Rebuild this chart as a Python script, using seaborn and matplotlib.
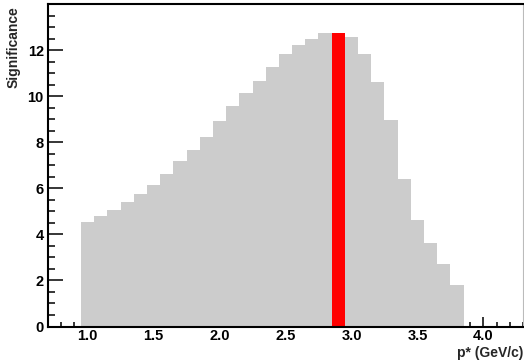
import matplotlib
matplotlib.use("Agg")
import matplotlib.pyplot as plt
from matplotlib.ticker import MultipleLocator, FixedLocator
import numpy as np
import pandas as pd
import seaborn as sns

# Data: bin centres (GeV/c) and significance per bin
p_centers = [1.0, 1.1, 1.2, 1.3, 1.4, 1.5, 1.6, 1.7, 1.8, 1.9,
             2.0, 2.1, 2.2, 2.3, 2.4, 2.5, 2.6, 2.7, 2.8, 2.9,
             3.0, 3.1, 3.2, 3.3, 3.4, 3.5, 3.6, 3.7, 3.8]
significance = [4.54, 4.80, 5.05, 5.41, 5.76, 6.15, 6.63, 7.20, 7.67, 8.24,
                8.93, 9.59, 10.15, 10.67, 11.28, 11.85, 12.24, 12.50, 12.76, 12.76,
                12.57, 11.85, 10.63, 8.98, 6.41, 4.63, 3.64, 2.72, 1.80]
best_bin = 2.9
bin_edges = [round(0.95 + 0.1 * i, 2) for i in range(30)]
x_tick_labels = ["1.0", "1.5", "2.0", "2.5", "3.0", "3.5", "4.0"]
y_tick_values = [0, 2, 4, 6, 8, 10, 12]

df = pd.DataFrame({"p": p_centers, "sig": significance})
df["best"] = np.isclose(df["p"], best_bin)

sns.set_style("white")
plt.rcParams["font.family"] = ["Liberation Sans", "DejaVu Sans"]
plt.rcParams["font.weight"] = "bold"

fig = plt.figure(figsize=(5.24, 3.64), dpi=100)
ax = fig.add_axes([48 / 524, 37.5 / 364, 475 / 524, 322.5 / 364])

sns.histplot(data=df, x="p", weights="sig", bins=bin_edges, color="#cccccc",
             alpha=1.0, linewidth=0, ax=ax)
sns.histplot(data=df[df["best"]], x="p", weights="sig", bins=bin_edges, color="#ff0000",
             alpha=1.0, linewidth=0, ax=ax)

ax.set_xlim(0.7, 4.3)
ax.set_ylim(0, 14)
ax.set_xticks([float(s) for s in x_tick_labels])
ax.set_xticklabels(x_tick_labels)
ax.xaxis.set_minor_locator(MultipleLocator(0.1))
ax.set_yticks(y_tick_values)
ax.set_yticklabels([str(v) for v in y_tick_values])
ax.yaxis.set_minor_locator(FixedLocator(np.arange(0.5, 14.0, 0.5)))

ax.tick_params(axis="x", which="major", direction="in", length=7.5, width=1.1,
               labelsize=10.5, pad=2, colors="black")
ax.tick_params(axis="x", which="minor", direction="in", length=3.8, width=1.1, colors="black")
ax.tick_params(axis="y", which="major", direction="in", length=10.5, width=1.1,
               labelsize=10.5, pad=3, colors="black")
ax.tick_params(axis="y", which="minor", direction="in", length=5, width=1.1, colors="black")
ax.tick_params(which="both", bottom=True, left=True, top=False, right=False)
for lab in ax.get_xticklabels() + ax.get_yticklabels():
    lab.set_fontweight("bold")

for side in ["left", "bottom", "top"]:
    ax.spines[side].set_visible(True)
    ax.spines[side].set_color("black")
    ax.spines[side].set_linewidth(1.5)
ax.spines["right"].set_visible(True)
ax.spines["right"].set_color("#bbbbbb")
ax.spines["right"].set_linewidth(0.8)

ax.set_xlabel("")
ax.set_ylabel("")
fig.text(523 / 524, 1 - 352.5 / 364, "p* (GeV/c)", ha="right", va="center",
         fontsize=10, fontweight="bold")
fig.text(14 / 524, 1 - 6 / 364, "Significance", ha="center", va="top",
         rotation=90, fontsize=10, fontweight="bold")

fig.savefig("out.png", dpi=100, facecolor="white")
